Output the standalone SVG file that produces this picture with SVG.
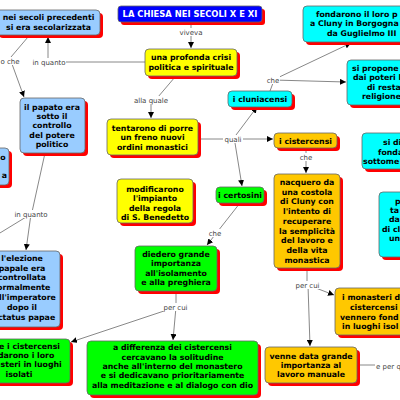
<svg xmlns="http://www.w3.org/2000/svg" width="400" height="400" viewBox="0 0 400 400">
<style>
.sh{fill:#ff0000}
.bx{stroke:#666;stroke-width:0.8}
.lb1{fill:#99ccff}.yl{fill:#ffff00}.cy{fill:#00ffff}.or{fill:#ffc800}.gr{fill:#00ff00}
.t{font-family:"DejaVu Sans",Verdana,sans-serif;font-weight:bold;font-size:7.8px;fill:#000;text-anchor:middle}
.lb{font-family:"DejaVu Sans",Verdana,sans-serif;font-size:7px;fill:#444;text-anchor:middle}
.s{text-anchor:start}.e{text-anchor:end}
.ln{stroke:#888;stroke-width:1;fill:none}
.ar{marker-end:url(#ah)}
.bg{fill:#fff}
</style>
<defs>
<marker id="ah" viewBox="0 0 10 10" refX="10" refY="5" markerWidth="6" markerHeight="6" markerUnits="userSpaceOnUse" orient="auto"><path d="M0,0 L10,5 L0,10 z" fill="#000"/></marker>
</defs>
<rect width="400" height="400" fill="#fff"/>
<g id="connectors">
<path class="ln ar" d="M191,22 V48"/>
<path class="ln" d="M145,62 H50"/>
<path class="ln ar" d="M48,58 V37"/>
<path class="ln" d="M28,37 L11,57"/>
<path class="ln ar" d="M12,64 L24,97"/>
<path class="ln" d="M175,77 L158,97"/>
<path class="ln ar" d="M151,103 V118"/>
<path class="ln" d="M198,139 H233"/>
<path class="ln ar" d="M233,139 L257,107"/>
<path class="ln ar" d="M233,139 H273"/>
<path class="ln ar" d="M235,143 L242,186"/>
<path class="ln" d="M270,91 L273,83"/>
<path class="ln ar" d="M273,80 L351,43"/>
<path class="ln ar" d="M273,80 L346,82"/>
<path class="ln ar" d="M306,148 V173"/>
<path class="ln ar" d="M240,203 L207,245"/>
<path class="ln" d="M176,291 V307"/>
<path class="ln ar" d="M176,307 L71,342"/>
<path class="ln ar" d="M176,307 L173,340"/>
<path class="ln" d="M307,268 V285"/>
<path class="ln ar" d="M308,285 L310,346"/>
<path class="ln ar" d="M308,285 L334,295"/>
<path class="ln" d="M357,365 H375"/>
<path class="ln" d="M45,153 L32,212"/>
<path class="ln ar" d="M31,214 L26,250"/>
<path class="ln" d="M31,214 L-5,236"/>
<g id="labels">
<rect class="bg" x="179" y="28" width="24" height="8"/><text class="lb" x="191" y="34.5">viveva</text>
<rect class="bg" x="32" y="58" width="34" height="8"/><text class="lb" x="49" y="64.5">in quanto</text>
<rect class="bg" x="0" y="57" width="20" height="8"/><text class="lb s" x="0.5" y="63.5">o che</text>
<rect class="bg" x="134" y="96" width="34" height="8"/><text class="lb" x="151" y="102.5">alla quale</text>
<rect class="bg" x="223" y="135" width="20" height="8"/><text class="lb" x="233" y="141.5">quali</text>
<rect class="bg" x="266" y="76" width="14" height="8"/><text class="lb" x="273" y="82.5">che</text>
<rect class="bg" x="299" y="153" width="14" height="8"/><text class="lb" x="306" y="159.5">che</text>
<rect class="bg" x="208" y="229" width="14" height="8"/><text class="lb" x="215" y="235.5">che</text>
<rect class="bg" x="163" y="303" width="25" height="8"/><text class="lb" x="175.5" y="309.5">per cui</text>
<rect class="bg" x="295" y="281" width="25" height="8"/><text class="lb" x="307.5" y="287.5">per cui</text>
<rect class="bg" x="14" y="210" width="34" height="8"/><text class="lb" x="31" y="216.5">in quanto</text>
<text class="lb s" x="376" y="368.5">e per q</text>
</g>
</g>
<g id="title">
<rect class="sh" x="121" y="9" width="144" height="16" rx="3"/>
<rect class="bx" x="118" y="6" width="144" height="16" rx="3" fill="#0000ff"/>
<text class="t" x="190" y="17.2" style="fill:#fff;font-size:8.4px">LA CHIESA NEI SECOLI X E XI</text>
</g>
<g id="n-secolarizzata">
<rect class="sh" x="-1" y="13" width="104" height="25" rx="4"/>
<rect class="bx lb1" x="-4" y="10" width="104" height="25" rx="4"/>
<text class="t" x="48.5" y="19.6">nei secoli precedenti</text>
<text class="t" x="48.5" y="29.6">si era secolarizzata</text>
</g>
<g id="n-crisi">
<rect class="sh" x="148" y="52" width="92" height="27" rx="4"/>
<rect class="bx yl" x="145" y="49" width="92" height="27" rx="4"/>
<text class="t" x="191" y="60.2">una profonda crisi</text>
<text class="t" x="191" y="69.6">politica e spirituale</text>
</g>
<g id="n-papato">
<rect class="sh" x="23" y="101" width="65" height="55" rx="4"/>
<rect class="bx lb1" x="20" y="98" width="65" height="55" rx="4"/>
<text class="t" x="52" y="109.6">il papato era</text>
<text class="t" x="52" y="118.9">sotto il</text>
<text class="t" x="52" y="128.2">controllo</text>
<text class="t" x="52" y="137.6">del potere</text>
<text class="t" x="52" y="147">politico</text>
</g>
<g id="n-left-partial">
<rect class="sh" x="-27" y="151" width="39" height="37" rx="4"/>
<rect class="bx lb1" x="-30" y="148" width="39" height="37" rx="4"/>
<text class="t e" x="5.5" y="159.8">o</text>
<text class="t e" x="7" y="177.8">a</text>
</g>
<g id="n-elezione">
<rect class="sh" x="-13" y="254" width="76" height="76" rx="4"/>
<rect class="bx lb1" x="-16" y="251" width="76" height="76" rx="4"/>
<text class="t" x="22" y="260.8">l'elezione</text>
<text class="t" x="22" y="270.6">papale era</text>
<text class="t" x="22" y="280.4">controllata</text>
<text class="t" x="22" y="290.2">formalmente</text>
<text class="t" x="22" y="300">dall'imperatore</text>
<text class="t" x="22" y="309.8">dopo il</text>
<text class="t" x="22" y="319.6">Dictatus papae</text>
</g>
<g id="n-tentarono">
<rect class="sh" x="110" y="122" width="91" height="36" rx="4"/>
<rect class="bx yl" x="107" y="119" width="91" height="36" rx="4"/>
<text class="t" x="152.5" y="130.8">tentarono di porre</text>
<text class="t" x="152.5" y="140.4">un freno nuovi</text>
<text class="t" x="152.5" y="150">ordini monastici</text>
</g>
<g id="n-modificarono">
<rect class="sh" x="120" y="182" width="76" height="44" rx="4"/>
<rect class="bx yl" x="117" y="179" width="76" height="44" rx="4"/>
<text class="t" x="155" y="192.1">modificarono</text>
<text class="t" x="155" y="201.3">l'impianto</text>
<text class="t" x="155" y="210.5">della regola</text>
<text class="t" x="155" y="219.7">di S. Benedetto</text>
</g>
<g id="n-cluniacensi">
<rect class="sh" x="231" y="94" width="64" height="16" rx="4"/>
<rect class="bx cy" x="228" y="91" width="64" height="16" rx="4"/>
<text class="t" x="260" y="102">i cluniacensi</text>
</g>
<g id="n-fondarono">
<rect class="sh" x="306" y="9" width="110" height="36" rx="4"/>
<rect class="bx cy" x="303" y="6" width="110" height="36" rx="4"/>
<text class="t s" x="316" y="17.1">fondarono il loro p</text>
<text class="t s" x="310" y="26.3">a Cluny in Borgogna</text>
<text class="t s" x="327" y="35.5">da Guglielmo III</text>
</g>
<g id="n-proponevano">
<rect class="sh" x="350" y="63" width="70" height="45" rx="4"/>
<rect class="bx cy" x="347" y="60" width="70" height="45" rx="4"/>
<text class="t s" x="352" y="71.1">si propone</text>
<text class="t s" x="353" y="80.3">dai poteri l</text>
<text class="t s" x="367" y="89.6">di resta</text>
<text class="t s" x="362" y="99">religione</text>
</g>
<g id="n-cistercensi">
<rect class="sh" x="277" y="136" width="63" height="15" rx="4"/>
<rect class="bx or" x="274" y="133" width="63" height="15" rx="4"/>
<text class="t" x="305.5" y="143.5">i cistercensi</text>
</g>
<g id="n-nacquero">
<rect class="sh" x="277" y="177" width="66" height="94" rx="4"/>
<rect class="bx or" x="274" y="174" width="66" height="94" rx="4"/>
<text class="t" x="307" y="184.8">nacquero da</text>
<text class="t" x="307" y="194.55">una costola</text>
<text class="t" x="307" y="204.3">di Cluny con</text>
<text class="t" x="307" y="214.05">l'intento di</text>
<text class="t" x="307" y="223.8">recuperare</text>
<text class="t" x="307" y="233.55">la semplicità</text>
<text class="t" x="307" y="243.3">del lavoro e</text>
<text class="t" x="307" y="253.05">della vita</text>
<text class="t" x="307" y="262.8">monastica</text>
</g>
<g id="n-sidi">
<rect class="sh" x="365" y="136" width="60" height="36" rx="4"/>
<rect class="bx cy" x="362" y="133" width="60" height="36" rx="4"/>
<text class="t s" x="383" y="145.3">si di</text>
<text class="t s" x="378" y="154.8">fonda</text>
<text class="t s" x="363" y="164.3">sottome</text>
</g>
<g id="n-right-partial">
<rect class="sh" x="382" y="195" width="40" height="65" rx="4"/>
<rect class="bx cy" x="379" y="192" width="40" height="65" rx="4"/>
<text class="t s" x="395" y="203.8">p</text>
<text class="t s" x="390" y="213">ta</text>
<text class="t s" x="389" y="222.3">da</text>
<text class="t s" x="382" y="231.6">di cl</text>
<text class="t s" x="389" y="240.9">un</text>
</g>
<g id="n-certosini">
<rect class="sh" x="219" y="190" width="48" height="16" rx="4"/>
<rect class="bx gr" x="216" y="187" width="48" height="16" rx="4"/>
<text class="t" x="240" y="197.8">i certosini</text>
</g>
<g id="n-diedero">
<rect class="sh" x="138" y="249" width="82" height="45" rx="4"/>
<rect class="bx gr" x="135" y="246" width="82" height="45" rx="4"/>
<text class="t" x="176" y="256.8">diedero grande</text>
<text class="t" x="176" y="266.2">importanza</text>
<text class="t" x="176" y="275.6">all'isolamento</text>
<text class="t" x="176" y="285">e alla preghiera</text>
</g>
<g id="n-anche">
<rect class="sh" x="-33" y="342" width="106" height="44" rx="4"/>
<rect class="bx gr" x="-36" y="339" width="106" height="44" rx="4"/>
<text class="t" x="19" y="348.8">anche i cistercensi</text>
<text class="t" x="19" y="358.1">fondarono i loro</text>
<text class="t" x="19" y="367.4">monasteri in luoghi</text>
<text class="t" x="19" y="376.7">isolati</text>
</g>
<g id="n-differenza">
<rect class="sh" x="90" y="344" width="171" height="54" rx="4"/>
<rect class="bx gr" x="87" y="341" width="171" height="54" rx="4"/>
<text class="t" x="172.5" y="350.2">a differenza dei cistercensi</text>
<text class="t" x="172.5" y="359.6">cercavano la solitudine</text>
<text class="t" x="172.5" y="369">anche all'interno del monastero</text>
<text class="t" x="172.5" y="378.4">e si dedicavano prioritariamente</text>
<text class="t" x="172.5" y="387.8">alla meditazione e al dialogo con dio</text>
</g>
<g id="n-venne">
<rect class="sh" x="268" y="350" width="92" height="36" rx="4"/>
<rect class="bx or" x="265" y="347" width="92" height="36" rx="4"/>
<text class="t" x="311" y="358.5">venne data grande</text>
<text class="t" x="311" y="367.8">importanza al</text>
<text class="t" x="311" y="377.1">lavoro manuale</text>
</g>
<g id="n-monasteri">
<rect class="sh" x="338" y="291" width="80" height="47" rx="4"/>
<rect class="bx or" x="335" y="288" width="80" height="47" rx="4"/>
<text class="t s" x="342" y="299.5">i monasteri d</text>
<text class="t s" x="350" y="309.5">cistercensi</text>
<text class="t s" x="340" y="319.5">vennero fond</text>
<text class="t s" x="342" y="328.8">in luoghi isol</text>
</g>
</svg>
